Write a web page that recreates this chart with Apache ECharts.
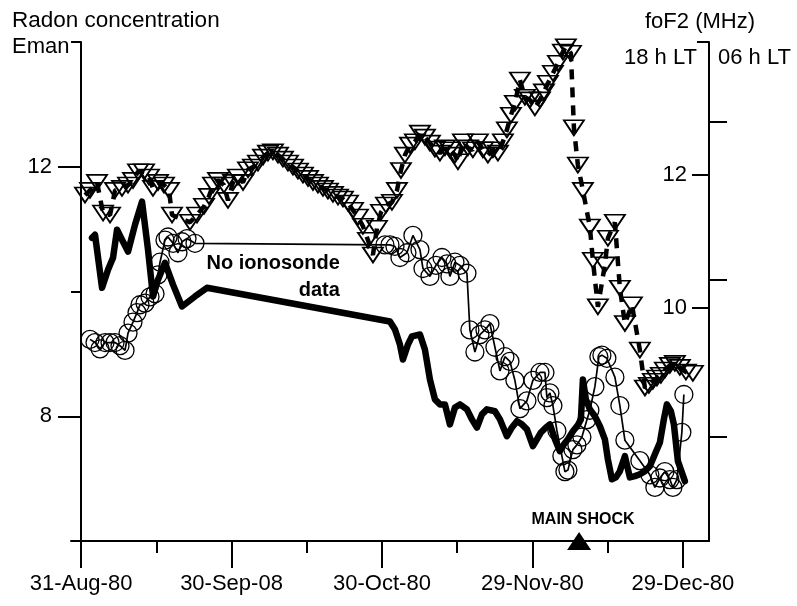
<!DOCTYPE html>
<html>
<head>
<meta charset="utf-8">
<script src="https://cdn.jsdelivr.net/npm/echarts@6.0.0/dist/echarts.min.js"></script>
<style>html,body{margin:0;padding:0;background:#fff}#c{width:797px;height:606px}</style>
</head>
<body>
<div id="c"></div>
<script>
// x values: days after 31-Aug-80
const xTickDays = [0, 30, 60, 90, 120];
const xTickLabels = ['31-Aug-80', '30-Sep-08', '30-Oct-80', '29-Nov-80', '29-Dec-80'];
const xMinorDays = [15, 45, 75, 105];
const radonTicks = [8, 12];
const radonMinorTicks = [10, 14];
const foF2EveTicks = [10, 12];
const foF2MornTicks = [4, 5, 6];

// Radon concentration (Eman)
const radonDays = [2.19,2.79,4.19,5.38,6.38,7.18,8.17,9.37,10.76,12.16,13.35,14.35,15.35,16.74,18.34,20.13,22.72,25.11,61.59,62.59,63.58,64.18,65.18,65.97,67.57,68.56,69.56,70.56,71.56,72.55,73.55,74.55,75.54,76.94,77.93,78.93,79.93,80.92,82.52,83.52,84.91,85.91,86.90,87.90,88.90,90.09,90.89,91.69,92.68,93.48,94.48,95.47,96.27,97.07,98.07,99.06,99.66,100.06,100.66,101.45,102.45,103.45,104.44,105.04,105.84,106.64,107.43,108.43,109.43,110.42,111.42,112.42,113.41,114.41,115.41,116.20,116.80,117.60,118.20,119.00,120.39];
const radonValues = [10.86,10.91,10.06,10.35,10.54,10.99,10.83,10.64,11.07,11.44,10.67,9.92,10.19,10.46,10.11,9.76,9.92,10.06,9.52,9.39,9.15,8.91,9.15,9.28,9.31,9.07,8.59,8.27,8.19,8.19,7.87,8.14,8.19,8.11,7.95,7.82,8.03,8.11,8.08,7.95,7.68,7.82,7.92,7.87,7.79,7.52,7.63,7.74,7.82,7.87,7.63,7.44,7.55,7.63,7.76,7.86,7.95,8.59,8.27,8.11,8.00,7.84,7.63,7.31,6.99,7.02,7.12,7.36,7.02,7.04,7.07,7.12,7.20,7.39,7.58,7.95,8.19,8.08,7.87,7.28,6.96];

// foF2 at 18 h LT (triangles)
const eveDays = [0.8,1.79,3.19,4.39,5.78,6.78,8.17,9.37,10.36,11.36,12.56,13.55,14.35,15.35,16.54,17.54,18.14,21.73,23.12,24.52,25.51,26.31,27.31,28.5,29.3,30.3,31.29,32.29,33.29,34.28,35.28,36.28,37.27,38.27,39.27,40.26,41.26,42.26,43.25,44.25,45.25,46.24,47.24,48.24,49.23,50.23,51.23,52.22,53.22,54.22,55.21,56.21,57.21,58.2,59.0,59.8,60.79,61.99,62.99,63.78,64.58,65.58,66.57,67.57,68.57,69.56,70.56,71.56,72.55,73.55,74.55,75.14,76.14,77.14,78.13,79.13,80.13,81.12,82.12,83.12,84.11,84.91,85.71,86.5,87.5,88.5,89.49,90.49,91.49,92.29,93.08,94.08,95.08,96.07,96.67,97.67,98.27,99.06,100.06,101.45,102.05,103.05,104.44,105.04,106.44,107.43,108.43,109.83,111.42,112.42,113.22,114.01,114.81,115.61,116.4,117.4,118.4,119.39,120.59,121.99];
const eveValues = [11.70,11.77,11.89,11.43,11.40,11.77,11.80,11.85,11.92,12.05,12.05,11.97,11.80,11.89,11.85,11.77,11.40,11.29,11.40,11.53,11.68,11.85,11.92,11.85,11.62,11.89,11.97,11.89,12.08,12.12,12.18,12.27,12.33,12.35,12.30,12.24,12.18,12.12,12.06,12.00,11.95,11.89,11.85,11.80,11.76,11.71,11.67,11.64,11.58,11.47,11.37,11.23,11.02,10.80,11.20,11.44,11.55,11.59,11.77,12.07,12.30,12.45,12.50,12.63,12.57,12.48,12.39,12.33,12.41,12.38,12.30,12.20,12.50,12.41,12.38,12.50,12.38,12.30,12.38,12.33,12.50,12.68,12.90,13.08,13.43,13.17,13.13,13.01,13.13,13.25,13.38,13.53,13.68,13.85,13.93,13.83,12.71,12.15,11.77,11.22,10.72,10.02,10.65,11.05,11.29,10.30,9.77,10.05,9.37,8.80,8.84,8.90,8.95,8.99,9.07,9.14,9.17,9.11,9.04,9.02];

// foF2 at 06 h LT (circles)
const mornDays = [1.79,2.79,3.79,4.78,5.78,6.78,7.77,8.77,9.37,10.36,11.16,11.76,12.76,13.75,14.75,15.35,15.75,16.74,17.34,18.34,19.33,20.13,21.13,22.72,60.59,61.59,62.59,63.58,64.98,66.17,67.57,68.17,69.56,70.76,71.96,72.95,73.55,74.55,75.54,76.94,77.53,78.53,79.53,80.53,81.52,82.52,83.52,84.51,85.51,86.5,87.5,88.9,90.09,91.49,92.49,92.88,93.48,94.08,94.88,95.87,96.47,97.07,98.07,98.86,99.86,100.86,101.45,102.45,103.25,103.85,104.84,106.44,107.43,108.43,111.42,113.41,114.41,115.41,116.4,117.4,118.0,118.8,119.79,120.19];
const mornValues = [4.62,4.60,4.56,4.60,4.60,4.60,4.58,4.55,4.66,4.73,4.79,4.84,4.85,4.89,4.91,5.03,5.11,5.25,5.27,5.23,5.17,5.24,5.26,5.23,5.22,5.22,5.21,5.14,5.17,5.28,5.19,5.07,5.02,5.09,5.14,5.10,5.02,5.11,5.09,5.04,4.68,4.54,4.65,4.68,4.72,4.57,4.42,4.51,4.48,4.36,4.18,4.23,4.36,4.41,4.41,4.25,4.28,4.20,4.04,3.88,3.78,3.79,3.92,3.95,4.00,4.11,4.17,4.32,4.51,4.52,4.50,4.38,4.20,3.98,3.85,3.76,3.68,3.74,3.78,3.73,3.68,3.73,4.03,4.27];

const mainShockDay = [99.3];
const noDataNote = { day: 51.6, radon: 10.24, text: 'No ionosonde\ndata' };

const FONT = "'Liberation Sans', Arial, Helvetica, sans-serif";
const zip = (a, b) => a.map((v, i) => [v, b[i]]);

const chart = echarts.init(document.getElementById('c'), null, { renderer: 'canvas' });
const axLine = { show: true, lineStyle: { color: '#000', width: 2 } };
const noLine = { show: false };

chart.setOption({
  animation: false,
  backgroundColor: '#fff',
  grid: { left: 71, right: 88, top: 42, bottom: 65, containLabel: false },
  xAxis: [
    {
      type: 'value', min: -2, max: 125.2, position: 'bottom',
      axisLine: axLine, splitLine: { show: false },
      axisTick: { show: true, length: 27, customValues: xTickDays, lineStyle: { color: '#000', width: 2 } },
      axisLabel: {
        show: true, customValues: xTickDays, margin: 32, color: '#000', fontSize: 22, fontFamily: FONT,
        formatter: v => xTickLabels[xTickDays.indexOf(v)] || ''
      }
    },
    {
      type: 'value', min: -2, max: 125.2, position: 'bottom',
      axisLine: noLine, splitLine: { show: false },
      axisTick: { show: true, length: 12, customValues: xMinorDays, lineStyle: { color: '#000', width: 2 } },
      axisLabel: { show: false }
    }
  ],
  yAxis: [
    {
      type: 'value', min: 6, max: 14, position: 'left', offset: -10,
      axisLine: axLine, splitLine: { show: false },
      axisTick: { show: true, length: 23, customValues: radonTicks, lineStyle: { color: '#000', width: 2 } },
      axisLabel: { show: true, customValues: radonTicks, margin: 29, color: '#000', fontSize: 22, fontFamily: FONT }
    },
    {
      type: 'value', min: 6, max: 14, position: 'left', offset: -10,
      axisLine: noLine, splitLine: { show: false },
      axisTick: { show: true, length: 10, customValues: radonMinorTicks, lineStyle: { color: '#000', width: 2 } },
      axisLabel: { show: false }
    },
    {
      type: 'value', min: 6.5, max: 14, position: 'right',
      axisLine: axLine, splitLine: { show: false },
      axisTick: { show: true, inside: true, length: 17, customValues: foF2EveTicks, lineStyle: { color: '#000', width: 2 } },
      axisLabel: { show: true, inside: true, customValues: foF2EveTicks, margin: 22, color: '#000', fontSize: 22, fontFamily: FONT }
    },
    {
      type: 'value', min: 6.5, max: 14, position: 'right',
      axisLine: noLine, splitLine: { show: false },
      axisTick: { show: true, inside: true, length: 12, customValues: [14], lineStyle: { color: '#000', width: 2 } },
      axisLabel: { show: false }
    },
    {
      type: 'value', min: 3.34, max: 6.508, position: 'right',
      axisLine: noLine, splitLine: { show: false },
      axisTick: { show: true, inside: false, length: 18, customValues: foF2MornTicks, lineStyle: { color: '#000', width: 2 } },
      axisLabel: { show: false }
    }
  ],
  graphic: [
    { type: 'text', x: 12, y: 21, style: { text: 'Radon concentration', font: '22.5px ' + FONT, fill: '#000', align: 'left', verticalAlign: 'middle', textAlign: 'left', textVerticalAlign: 'middle' } },
    { type: 'text', x: 12, y: 47, style: { text: 'Eman', font: '22px ' + FONT, fill: '#000', align: 'left', verticalAlign: 'middle', textAlign: 'left', textVerticalAlign: 'middle' } },
    { type: 'text', x: 700, y: 22, style: { text: 'foF2 (MHz)', font: '22px ' + FONT, fill: '#000', align: 'center', verticalAlign: 'middle', textAlign: 'center', textVerticalAlign: 'middle' } },
    { type: 'text', x: 697, y: 58, style: { text: '18 h LT', font: '22px ' + FONT, fill: '#000', align: 'right', verticalAlign: 'middle', textAlign: 'right', textVerticalAlign: 'middle' } },
    { type: 'text', x: 718, y: 58, style: { text: '06 h LT', font: '22px ' + FONT, fill: '#000', align: 'left', verticalAlign: 'middle', textAlign: 'left', textVerticalAlign: 'middle' } }
  ],
  series: [
    {
      name: 'foF2 06 h LT', type: 'line', xAxisIndex: 0, yAxisIndex: 4,
      data: zip(mornDays, mornValues),
      symbol: 'circle', symbolSize: 18, showSymbol: true,
      itemStyle: { color: 'rgba(0,0,0,0)', borderColor: '#000', borderWidth: 1.3 },
      lineStyle: { color: '#000', width: 1.7 },
      z: 2
    },
    {
      name: 'foF2 18 h LT', type: 'line', xAxisIndex: 0, yAxisIndex: 2,
      data: zip(eveDays, eveValues),
      symbol: 'triangle', symbolRotate: 180, symbolSize: [20, 15], showSymbol: true,
      itemStyle: { color: 'rgba(0,0,0,0)', borderColor: '#000', borderWidth: 1.8 },
      lineStyle: { color: '#000', width: 4.5, type: [10, 8] },
      z: 3
    },
    {
      name: 'Radon', type: 'line', xAxisIndex: 0, yAxisIndex: 0,
      data: zip(radonDays, radonValues),
      showSymbol: false, symbol: 'none',
      lineStyle: { color: '#000', width: 6.5, join: 'round', cap: 'round' },
      z: 4
    },
    {
      name: 'Main shock', type: 'scatter', xAxisIndex: 0, yAxisIndex: 0,
      data: mainShockDay.map(d => [d, 6]),
      symbol: 'triangle', symbolSize: [24, 18], clip: false,
      itemStyle: { color: '#000', opacity: 1 },
      label: { show: true, position: 'top', distance: 4, offset: [4, 0], formatter: 'MAIN SHOCK', color: '#000', opacity: 1, fontSize: 16, fontWeight: 'bold', fontFamily: FONT },
      z: 5
    },
    {
      name: 'note', type: 'scatter', xAxisIndex: 0, yAxisIndex: 0,
      data: [[noDataNote.day, noDataNote.radon]],
      symbolSize: 0, silent: true,
      itemStyle: { opacity: 1 },
      label: { show: true, position: 'left', distance: 0, align: 'right', formatter: noDataNote.text, color: '#000', opacity: 1, fontSize: 20, fontWeight: 'bold', lineHeight: 27, fontFamily: FONT },
      z: 5
    }
  ]
});
</script>
</body>
</html>
